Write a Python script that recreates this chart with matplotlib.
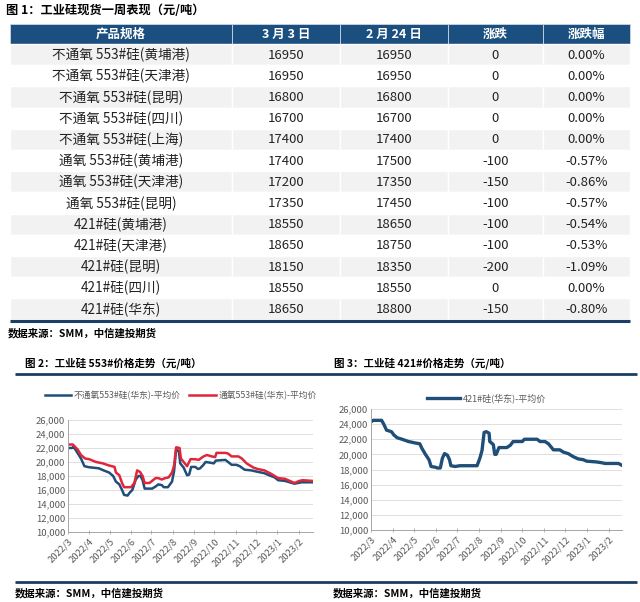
import pandas as pd
import matplotlib
matplotlib.use("Agg")
import matplotlib.pyplot as plt
from matplotlib.patches import Rectangle
from matplotlib.ticker import FuncFormatter, MultipleLocator
import matplotlib.dates as mdates

plt.rcParams['font.family'] = ['Noto Sans CJK SC', 'DejaVu Sans']

# ---- 表格数据 ----
headers = ["产品规格", "3 月 3 日", "2 月 24 日", "涨跌", "涨跌幅"]
specs = ["不通氧 553#硅(黄埔港)", "不通氧 553#硅(天津港)", "不通氧 553#硅(昆明)",
         "不通氧 553#硅(四川)", "不通氧 553#硅(上海)", "通氧 553#硅(黄埔港)",
         "通氧 553#硅(天津港)", "通氧 553#硅(昆明)", "421#硅(黄埔港)",
         "421#硅(天津港)", "421#硅(昆明)", "421#硅(四川)", "421#硅(华东)"]
price_0303 = [16950, 16950, 16800, 16700, 17400, 17400, 17200, 17350,
              18550, 18650, 18150, 18550, 18650]
price_0224 = [16950, 16950, 16800, 16700, 17400, 17500, 17350, 17450,
              18650, 18750, 18350, 18550, 18800]
change = ["0", "0", "0", "0", "0", "-100", "-150", "-100", "-100", "-100",
          "-200", "0", "-150"]
change_pct = ["0.00%", "0.00%", "0.00%", "0.00%", "0.00%", "-0.57%", "-0.86%",
              "-0.57%", "-0.54%", "-0.53%", "-1.09%", "0.00%", "-0.80%"]

# ---- 图2 数据 ----
d553_plain = ["2022-03-01", "2022-03-07", "2022-03-09", "2022-03-13", "2022-03-20",
              "2022-03-25", "2022-04-01", "2022-04-15", "2022-04-22", "2022-04-30",
              "2022-05-06", "2022-05-10", "2022-05-15", "2022-05-19", "2022-05-22",
              "2022-05-27", "2022-05-30", "2022-06-03", "2022-06-08", "2022-06-12",
              "2022-06-15", "2022-06-18", "2022-06-21", "2022-07-02", "2022-07-07",
              "2022-07-11", "2022-07-16", "2022-07-19", "2022-07-25", "2022-07-28",
              "2022-07-31", "2022-08-03", "2022-08-06", "2022-08-10", "2022-08-12",
              "2022-08-17", "2022-08-22", "2022-08-25", "2022-08-28", "2022-09-03",
              "2022-09-07", "2022-09-10", "2022-09-15", "2022-09-18", "2022-09-25",
              "2022-09-30", "2022-10-03", "2022-10-17", "2022-10-21", "2022-10-26",
              "2022-11-02", "2022-11-07", "2022-11-14", "2022-11-24", "2022-12-03",
              "2022-12-13", "2022-12-20", "2022-12-28", "2023-01-02", "2023-01-12",
              "2023-01-19", "2023-01-26", "2023-01-31", "2023-02-05", "2023-02-21"]
v553_plain = [22000, 22000, 22200, 21600, 20500, 19400, 19250, 19100, 18800, 18500,
              18000, 17200, 16800, 16000, 15300, 15200, 15600, 16000, 17500, 18000,
              18000, 17400, 16200, 16200, 16500, 16800, 16700, 16400, 16400, 16800,
              17200, 18700, 21800, 21500, 19800, 19200, 18100, 18200, 19300, 19300,
              19000, 19100, 19600, 20000, 19900, 19800, 20200, 20300, 20000, 19600,
              19600, 19400, 18900, 18800, 18600, 18400, 18100, 17800, 17400, 17300,
              17100, 16900, 17000, 17100, 17100]

d553_oxy = ["2022-03-01", "2022-03-08", "2022-03-15", "2022-03-20", "2022-03-26",
            "2022-04-01", "2022-04-11", "2022-04-21", "2022-04-30", "2022-05-08",
            "2022-05-10", "2022-05-15", "2022-05-19", "2022-05-22", "2022-06-01",
            "2022-06-06", "2022-06-10", "2022-06-14", "2022-06-18", "2022-06-21",
            "2022-06-28", "2022-07-07", "2022-07-11", "2022-07-16", "2022-07-21",
            "2022-07-26", "2022-07-31", "2022-08-03", "2022-08-06", "2022-08-11",
            "2022-08-13", "2022-08-17", "2022-08-22", "2022-08-27", "2022-09-03",
            "2022-09-08", "2022-09-15", "2022-09-20", "2022-09-27", "2022-10-02",
            "2022-10-04", "2022-10-17", "2022-10-21", "2022-10-26", "2022-11-05",
            "2022-11-10", "2022-11-17", "2022-11-27", "2022-12-03", "2022-12-13",
            "2022-12-23", "2023-01-02", "2023-01-12", "2023-01-19", "2023-01-26",
            "2023-02-02", "2023-02-07", "2023-02-21"]
v553_oxy = [22500, 22500, 21800, 21000, 20500, 20400, 20000, 19800, 19500, 19300,
            18500, 18100, 17000, 16400, 16400, 17000, 18800, 18600, 18000, 17000,
            17000, 17700, 17700, 17500, 17700, 17800, 18500, 19500, 22100, 22000,
            20500, 20000, 19400, 20400, 20400, 20300, 20800, 21000, 20800, 20700,
            21300, 21300, 21200, 20800, 20800, 20500, 19800, 19200, 19000, 18800,
            18300, 17700, 17600, 17300, 17000, 17300, 17400, 17300]

# ---- 图3 数据 ----
d421 = ["2022-03-01", "2022-03-04", "2022-03-16", "2022-03-19", "2022-03-23",
        "2022-03-30", "2022-04-02", "2022-04-07", "2022-04-14", "2022-04-23",
        "2022-05-03", "2022-05-09", "2022-05-12", "2022-05-17", "2022-05-22",
        "2022-05-25", "2022-05-31", "2022-06-03", "2022-06-07", "2022-06-10",
        "2022-06-13", "2022-06-17", "2022-06-20", "2022-06-22", "2022-06-28",
        "2022-07-05", "2022-07-29", "2022-08-02", "2022-08-05", "2022-08-08",
        "2022-08-11", "2022-08-15", "2022-08-16", "2022-08-21", "2022-08-23",
        "2022-08-25", "2022-08-29", "2022-09-09", "2022-09-14", "2022-09-18",
        "2022-10-01", "2022-10-04", "2022-10-22", "2022-10-26", "2022-11-02",
        "2022-11-07", "2022-11-14", "2022-11-23", "2022-11-28", "2022-12-05",
        "2022-12-12", "2022-12-19", "2022-12-26", "2022-12-31", "2023-01-14",
        "2023-01-21", "2023-01-26", "2023-02-14", "2023-02-18"]
v421 = [24300, 24500, 24500, 24000, 23200, 23000, 22600, 22200, 22000, 21700,
        21500, 21400, 20800, 20000, 19300, 18400, 18300, 18200, 18200, 19500,
        20100, 19900, 19300, 18500, 18400, 18500, 18500, 19500, 20500, 22900,
        23000, 22800, 21700, 21300, 20000, 20000, 20900, 20900, 21200, 21700,
        21700, 22000, 22000, 21700, 21700, 21400, 20600, 20600, 20300, 20100,
        19700, 19400, 19300, 19100, 19000, 18900, 18800, 18800, 18600]

navy = "#1f4e79"
red = "#e0263a"
dark = "#1b3f66"

fig = plt.figure(figsize=(6.4, 6.02), dpi=100)
bg = fig.add_axes([0, 0, 1, 1])
bg.set_xlim(0, 640)
bg.set_ylim(602, 0)
bg.axis("off")

# 标题
bg.text(6, 11, "图 1：工业硅现货一周表现（元/吨）", fontsize=8.8, fontweight="bold",
        va="center", ha="left", color="black")

# 表格
col_x = [10, 232, 340, 448, 543, 630]
head_top, head_h, row_h = 24, 20, 21.2
for j in range(5):
    bg.add_patch(Rectangle((col_x[j], head_top), col_x[j + 1] - col_x[j], head_h,
                           facecolor="#1b4f80", edgecolor="#c9d6e3", lw=0.6))
    bg.text((col_x[j] + col_x[j + 1]) / 2, head_top + head_h / 2, headers[j],
            color="white", fontsize=9, fontweight="bold", ha="center", va="center")

for i in range(len(specs)):
    y0 = head_top + head_h + i * row_h
    fc = "#f2f2f2" if i % 2 == 0 else "white"
    for j in range(5):
        bg.add_patch(Rectangle((col_x[j], y0), col_x[j + 1] - col_x[j], row_h,
                               facecolor=fc, edgecolor="white", lw=1.0))
    vals = [specs[i], str(price_0303[i]), str(price_0224[i]), change[i], change_pct[i]]
    for j, s in enumerate(vals):
        bg.text((col_x[j] + col_x[j + 1]) / 2, y0 + row_h / 2 + 0.5, s,
                fontsize=9.5 if j else 9.8, ha="center", va="center",
                color="#222222")

table_bottom = head_top + head_h + len(specs) * row_h
bg.plot([10, 630], [table_bottom + 1, table_bottom + 1], color=dark, lw=2.2,
        solid_capstyle="butt")
bg.text(8, 333, "数据来源：SMM，中信建投期货", fontsize=7.5, fontweight="bold",
        style="italic", va="center", ha="left")

# 图2/图3 标题和分割线
bg.text(25, 363, "图 2：工业硅 553#价格走势（元/吨）", fontsize=7.6, fontweight="bold",
        va="center", ha="left")
bg.text(334, 363, "图 3：工业硅 421#价格走势（元/吨）", fontsize=7.6, fontweight="bold",
        va="center", ha="left")
bg.plot([15, 637], [374, 374], color=dark, lw=2.0, solid_capstyle="butt")
bg.plot([15, 637], [582, 582], color=dark, lw=2.0, solid_capstyle="butt")
bg.text(15, 593, "数据来源：SMM，中信建投期货", fontsize=7.5, fontweight="bold",
        style="italic", va="center", ha="left")
bg.text(333, 593, "数据来源：SMM，中信建投期货", fontsize=7.5, fontweight="bold",
        style="italic", va="center", ha="left")


def style_axis(ax, end_date):
    ax.set_ylim(10000, 26000)
    ax.yaxis.set_major_locator(MultipleLocator(2000))
    ax.yaxis.set_major_formatter(FuncFormatter(lambda v, p: f"{int(v):,}"))
    ax.set_xlim(pd.Timestamp("2022-03-01"), pd.Timestamp(end_date))
    ax.xaxis.set_major_locator(mdates.MonthLocator())
    ax.xaxis.set_major_formatter(FuncFormatter(
        lambda v, p: f"{mdates.num2date(v).year}/{mdates.num2date(v).month}"))
    ax.grid(axis="y", color="#d9d9d9", lw=0.6)
    ax.set_axisbelow(True)
    for s in ["top", "right"]:
        ax.spines[s].set_visible(False)
    for s in ["left", "bottom"]:
        ax.spines[s].set_color("#a6a6a6")
        ax.spines[s].set_linewidth(0.7)
    ax.tick_params(axis="both", labelsize=6.8, colors="#595959", length=3,
                   width=0.6, color="#a6a6a6", pad=2)
    ax.tick_params(axis="x", direction="inout")
    ax.tick_params(axis="y", direction="in", length=0)
    for lab in ax.get_xticklabels():
        lab.set_rotation(45)
        lab.set_ha("right")
        lab.set_rotation_mode("anchor")


# 图2
ax1 = fig.add_axes([68 / 640, 1 - 532 / 602, 245 / 640, 112 / 602])
ax1.plot(pd.to_datetime(d553_plain), v553_plain, color=navy, lw=1.8,
         label="不通氧553#硅(华东)-平均价")
ax1.plot(pd.to_datetime(d553_oxy), v553_oxy, color=red, lw=1.8,
         label="通氧553#硅(华东)-平均价")
style_axis(ax1, "2023-02-22")
ax1.legend(loc="center", bbox_to_anchor=(0.46, 1.22), ncol=2, frameon=False,
           fontsize=6.3, handlelength=3.0, columnspacing=1.0, handletextpad=0.3,
           labelcolor="#595959")

# 图3
ax2 = fig.add_axes([371 / 640, 1 - 530 / 602, 251 / 640, 121 / 602])
ax2.plot(pd.to_datetime(d421), v421, color=navy, lw=2.4,
         label="421#硅(华东)-平均价")
style_axis(ax2, "2023-02-19")
ax2.legend(loc="center", bbox_to_anchor=(0.46, 1.09), ncol=1, frameon=False,
           fontsize=6.5, handlelength=3.6, handletextpad=0.3, labelcolor="#595959")

fig.savefig("out.png", dpi=100)
